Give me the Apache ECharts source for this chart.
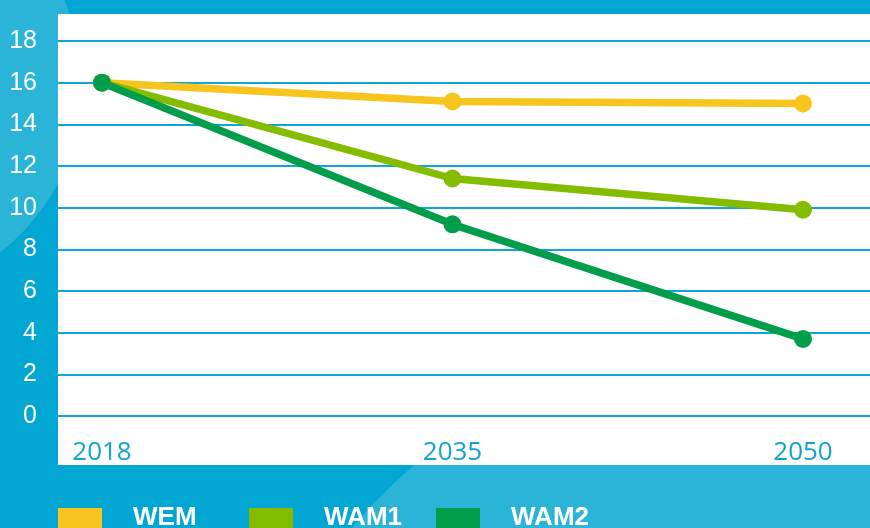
<!DOCTYPE html>
<html>
<head>
<meta charset="utf-8">
<script src="https://cdn.jsdelivr.net/npm/echarts@6/dist/echarts.min.js"></script>
<style>
  html, body { margin: 0; padding: 0; }
  #main { width: 870px; height: 528px; }
</style>
</head>
<body>
<div id="main"></div>
<script>
var years = ['2018', '2035', '2050'];
var wem = [16.0, 15.1, 15.0];
var wam1 = [16.0, 11.4, 9.9];
var wam2 = [16.0, 9.2, 3.7];
var seriesNames = ['WEM', 'WAM1', 'WAM2'];
var seriesColors = ['#f8c51f', '#84bc00', '#009e4b'];
var legendLeft = [58, 249, 436];

var myChart = echarts.init(document.getElementById('main'));

function makeSeries(name, values, color) {
    return {
        name: name,
        type: 'line',
        xAxisIndex: 1,
        yAxisIndex: 1,
        data: values,
        symbol: 'circle',
        symbolSize: 18,
        itemStyle: { color: color },
        lineStyle: { color: color, width: 7.5 }
    };
}

var legends = seriesNames.map(function (name, i) {
    return {
        data: [{ name: name, icon: 'rect' }],
        left: legendLeft[i],
        top: 505,
        padding: 0,
        itemWidth: 44,
        itemHeight: 20,
        selectedMode: false,
        textStyle: {
            color: '#ffffff',
            fontSize: 26,
            fontWeight: 'bold',
            fontFamily: 'Liberation Sans, Arial',
            padding: [6, 0, 0, 26]
        }
    };
});

var option = {
    backgroundColor: '#01a7d2',
    animation: false,
    graphic: [
        // lighter blue swooshes behind the panel
        { type: 'circle', z: -3, silent: true, shape: { cx: -130, cy: 85, r: 212 }, style: { fill: '#2ab4d8' } },
        { type: 'circle', z: -3, silent: true, shape: { cx: 790, cy: 900, r: 575 }, style: { fill: '#2ab4d8' } },
        // white plotting panel
        { type: 'rect', z: -2, silent: true, shape: { x: 58, y: 14, width: 812, height: 451 }, style: { fill: '#ffffff' } }
    ],
    legend: legends,
    grid: [
        { left: 58, right: 0, top: 41, bottom: 112 },
        { left: 102, right: 67, top: 41, bottom: 112 }
    ],
    xAxis: [{
        type: 'category',
        gridIndex: 0,
        data: years,
        show: false
    }, {
        type: 'category',
        gridIndex: 1,
        data: years,
        boundaryGap: false,
        axisLine: { show: false },
        axisTick: { show: false },
        axisLabel: {
            color: '#12a4d1',
            fontSize: 26,
            fontFamily: 'Open Sans',
            margin: 24
        }
    }],
    yAxis: [{
        type: 'value',
        gridIndex: 0,
        min: 0,
        max: 18,
        interval: 2,
        axisLine: { show: false },
        axisTick: { show: false },
        axisLabel: {
            color: '#ffffff',
            fontSize: 25,
            fontFamily: 'Liberation Sans, Arial',
            margin: 21
        },
        splitLine: { show: true, lineStyle: { color: '#0ea6d2', width: 2 } }
    }, {
        type: 'value',
        gridIndex: 1,
        min: 0,
        max: 18,
        interval: 2,
        show: false,
        splitLine: { show: false }
    }],
    series: [
        makeSeries(seriesNames[0], wem, seriesColors[0]),
        makeSeries(seriesNames[1], wam1, seriesColors[1]),
        makeSeries(seriesNames[2], wam2, seriesColors[2])
    ]
};

myChart.setOption(option);
</script>
</body>
</html>
